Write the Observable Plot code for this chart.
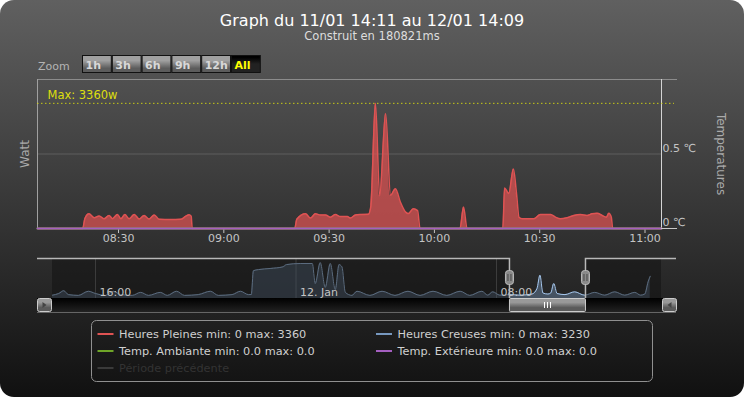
<!DOCTYPE html>
<html><head><meta charset="utf-8">
<script src="https://cdn.jsdelivr.net/npm/d3@7"></script>
<script src="https://cdn.jsdelivr.net/npm/@observablehq/plot@0.6"></script>
<style>
html,body{margin:0;padding:0;background:#fff;}
#chart{position:relative;width:744px;height:397px;overflow:hidden;border-radius:14px;
  background:linear-gradient(to bottom,#606060 0px,#101010 400px);font-family:"DejaVu Sans",sans-serif;}
#chart svg{position:absolute;left:0;overflow:visible;}
</style></head>
<body><div id="chart"></div>
<script>
// ---------------- data ----------------
const titleText = "Graph du 11/01 14:11 au 12/01 14:09";
const subtitleText = "Construit en 180821ms";
const zoomLabel = "Zoom";
const zoomButtons = ["1h", "3h", "6h", "9h", "12h", "All"];
const zoomSelected = "All";
const yTitle = "Watt";
const y2Title = "Temperatures";
const viewDay = "2012-01-12";
const viewRange = ["08:06:55", "11:04:42"];
const xTickLabels = ["08:30", "09:00", "09:30", "10:00", "10:30", "11:00"];
const wattGrid = [2000, 4000];
const wattTop = 4000;
const wattMax = 3360;
const maxLabel = "Max: 3360w";
const tempTicks = [0, 0.5];
const tempTickLabels = ["0 ℃", "0.5 ℃"];
const tempTop = 1;

// Heures Pleines (W) in the zoomed view, 12 Jan
const hpTimes = [
  "08:07:00",
  "08:19:48","08:20:24","08:21:36","08:23:06","08:24:30","08:25:54","08:27:18","08:28:18","08:29:42",
  "08:30:42","08:31:48","08:33:00","08:34:30","08:35:54","08:37:18","08:38:42","08:40:12","08:41:36",
  "08:44:54","08:47:42","08:49:12","08:50:06","08:50:42","08:51:00",
  "09:20:12","09:20:48","09:23:18","09:24:42","09:26:06","09:27:30","09:29:00","09:30:24","09:31:48",
  "09:33:12","09:35:12","09:36:06","09:37:30","09:38:54","09:41:12","09:41:54","09:43:12","09:44:24",
  "09:46:06","09:47:30","09:48:54","09:50:18","09:51:48","09:52:36","09:54:00","09:55:12","09:55:54",
  "10:07:18","10:08:18","10:09:18",
  "10:19:30","10:20:00","10:20:48","10:21:12","10:22:30","10:23:24","10:24:06","10:25:00","10:28:18",
  "10:30:12","10:33:06","10:34:30","10:35:54","10:37:48","10:39:42","10:41:36","10:43:30","10:44:54",
  "10:46:24","10:47:48","10:49:00","10:49:42","10:50:24","10:50:48",
  "11:04:30"
];
const hpWatts = [
  0,
  0, 260, 395, 290, 335, 260, 350, 265, 375,
  260, 375, 260, 375, 255, 350, 255, 365, 245,
  240, 245, 330, 370, 330, 0,
  0, 250, 395, 280, 395, 365, 365, 305, 375,
  320, 320, 280, 365, 375, 380, 600, 3360, 880,
  3090, 890, 1070, 710, 440, 400, 530, 480, 0,
  0, 580, 0,
  0, 1090, 980, 940, 1600, 930, 300, 260, 260,
  375, 375, 305, 260, 290, 350, 375, 350, 395,
  410, 350, 305, 410, 300, 0,
  0
];
const tempTimes = ["08:06:55", "11:04:42"];
const tempAmbiante = [0.0, 0.0];
const tempExterieure = [0.0, 0.0];

// Navigator: Heures Creuses (W) over the whole period
const navRange = ["2012-01-11T14:17", "2012-01-12T14:35"];
const navGrid = ["2012-01-11T16:00", "2012-01-12T00:00", "2012-01-12T08:00"];
const navGridLabels = ["16:00", "12. Jan", "08:00"];
const navSelection = ["2012-01-12T08:31", "2012-01-12T11:33"];
const hcTimes = [
  "2012-01-11T14:17","2012-01-11T14:32","2012-01-11T14:44","2012-01-11T14:55","2012-01-11T15:19",
  "2012-01-11T15:43","2012-01-11T16:00","2012-01-11T16:24","2012-01-11T16:43","2012-01-11T17:00",
  "2012-01-11T17:28","2012-01-11T17:48","2012-01-11T18:07","2012-01-11T18:35","2012-01-11T18:52",
  "2012-01-11T19:14","2012-01-11T19:33","2012-01-11T20:06","2012-01-11T20:35","2012-01-11T20:54",
  "2012-01-11T21:27","2012-01-11T21:47","2012-01-11T22:06","2012-01-11T22:13","2012-01-11T22:18",
  "2012-01-11T22:30","2012-01-11T22:58","2012-01-11T23:29","2012-01-11T23:37","2012-01-12T00:10",
  "2012-01-12T00:39","2012-01-12T00:46","2012-01-12T00:58","2012-01-12T01:10","2012-01-12T01:22",
  "2012-01-12T01:34","2012-01-12T01:43","2012-01-12T01:50","2012-01-12T01:58","2012-01-12T02:14",
  "2012-01-12T02:26","2012-01-12T02:57","2012-01-12T03:26","2012-01-12T03:57","2012-01-12T04:28",
  "2012-01-12T04:57","2012-01-12T05:28","2012-01-12T06:01","2012-01-12T06:33","2012-01-12T06:56",
  "2012-01-12T07:25","2012-01-12T07:39","2012-01-12T07:51","2012-01-12T08:08","2012-01-12T08:32",
  "2012-01-12T08:56","2012-01-12T09:25","2012-01-12T09:37","2012-01-12T09:44","2012-01-12T09:51",
  "2012-01-12T10:03","2012-01-12T10:10","2012-01-12T10:17","2012-01-12T10:25","2012-01-12T10:44",
  "2012-01-12T11:07","2012-01-12T11:31","2012-01-12T11:55","2012-01-12T12:19","2012-01-12T12:43",
  "2012-01-12T13:07","2012-01-12T13:31","2012-01-12T13:45","2012-01-12T13:55","2012-01-12T14:03",
  "2012-01-12T14:08"
];
const hcWatts = [
  300, 450, 700, 350, 280,
  650, 450, 280, 650, 350,
  280, 550, 280, 550, 280,
  650, 280, 350, 650, 280,
  350, 650, 350, 360, 2500,
  2600, 2700, 2850, 3050, 3150,
  3150, 1350, 3230, 1000, 3150,
  800, 3050, 2850, 550, 280,
  650, 280, 650, 280, 650,
  280, 650, 280, 650, 280,
  650, 300, 600, 300, 350,
  300, 400, 900, 2100, 500,
  400, 500, 1350, 450, 350,
  600, 300, 550, 300, 600,
  300, 550, 300, 400, 1500,
  2000
];

const legendNames = ["Heures Pleines", "Heures Creuses", "Temp. Ambiante", "Temp. Extérieure", "Période précédente"];
const legendMin = ["0", "0", "0.0", "0.0", null];
const legendMax = ["3360", "3230", "0.0", "0.0", null];
const legendColors = ["#DF5353", "#7798BF", "#6fa528", "#a45fc0", "#3a3a3a"];
const legendHidden = [false, false, false, false, true];

// ---------------- build ----------------
const U = s => new Date(s + "Z");
const T = t => U(viewDay + "T" + t);
const hp = hpTimes.map((t, i) => ({t: T(t), w: hpWatts[i]}));
const temps = tempTimes.map((t, i) => ({t: T(t), amb: tempAmbiante[i], ext: tempExterieure[i]}));
const hc = hcTimes.map((t, i) => ({t: U(t), w: hcWatts[i]}));
const wattPerDeg = wattTop / tempTop;
const xDom = viewRange.map(T);
const chart = document.getElementById("chart");
const baseStyle = {background: "transparent", fontFamily: "DejaVu Sans", fontSize: "11px", color: "#c4c4c4", overflow: "visible"};

const main = Plot.plot({
  width: 744, height: 250, marginLeft: 37, marginRight: 83, marginTop: 79, marginBottom: 22,
  style: baseStyle,
  x: {type: "utc", domain: xDom, ticks: xTickLabels.map(T), tickFormat: d3.utcFormat("%H:%M"), tickSize: 5, tickPadding: 1, label: null},
  y: {domain: [0, wattTop], axis: null},
  marks: [
    Plot.ruleY(wattGrid.slice(0, 1), {stroke: "#ffffff", strokeOpacity: 0.16}),
    Plot.ruleY(wattGrid.slice(1), {stroke: "#8c8c8c", insetRight: -16}),
    Plot.areaY(hp, {x: "t", y: "w", fill: "#DF5353", fillOpacity: 0.72, curve: "monotone-x"}),
    Plot.lineY(hp, {x: "t", y: "w", stroke: "#DF5353", strokeWidth: 1.5, curve: "monotone-x"}),
    Plot.ruleX([xDom[0]], {stroke: "#a0a0a0"}),
    Plot.ruleX([xDom[1]], {stroke: "#d4d4d4"}),
    Plot.ruleY([wattMax], {stroke: "#DDDF0D", strokeOpacity: 0.85, strokeDasharray: "1.5,2.5", insetRight: -13}),
    Plot.text([maxLabel], {x: () => xDom[0], y: () => wattMax, dx: 10, dy: -8, textAnchor: "start", fill: "#DDDF0D", fontSize: 11.5}),
    Plot.lineY(temps, {x: "t", y: d => d.amb * wattPerDeg, stroke: "#6fa528", strokeWidth: 2}),
    Plot.lineY(temps, {x: "t", y: d => d.ext * wattPerDeg, stroke: "#a45fc0", strokeWidth: 2}),
    Plot.ruleY([0], {x1: () => xDom[1], x2: () => xDom[1], insetRight: -16, stroke: "#c8c8c8"}),
    Plot.text(tempTicks, {x: () => xDom[1], y: d => d * wattPerDeg, text: (d, i) => tempTickLabels[i], textAnchor: "start", dx: 1, dy: -6, fill: "#c4c4c4"}),
    Plot.text([yTitle], {frameAnchor: "left", textAnchor: "middle", dx: -12, rotate: -90, fill: "#aaaaaa", fontSize: 12}),
    Plot.text([y2Title], {frameAnchor: "right", textAnchor: "middle", dx: 59, rotate: 90, fill: "#aaaaaa", fontSize: 12})
  ]
});
main.style.top = "0px";
chart.appendChild(main);

const nx = navRange.map(U);
const sel = navSelection.map(U);
const nav = Plot.plot({
  width: 744, height: 72, marginLeft: 52, marginRight: 83, marginTop: 13, marginBottom: 19,
  style: baseStyle,
  x: {type: "utc", domain: nx, axis: null},
  y: {domain: [0, 3600], axis: null},
  marks: [
    Plot.ruleX(navGrid.map(U), {stroke: "#ffffff", strokeOpacity: 0.3}),
    Plot.areaY(hc, {x: "t", y: "w", fill: "#7798BF", fillOpacity: 0.4, curve: "monotone-x"}),
    Plot.lineY(hc, {x: "t", y: "w", stroke: "#A6C7ED", strokeWidth: 1, curve: "monotone-x"}),
    Plot.rect([0], {x1: () => nx[0], x2: () => sel[0], fill: "#101010", fillOpacity: 0.5}),
    Plot.rect([0], {x1: () => sel[1], x2: () => nx[1], fill: "#101010", fillOpacity: 0.5}),
    Plot.text(navGrid.map(U), {x: d => d, frameAnchor: "bottom", lineAnchor: "bottom", dx: 4, dy: -3, textAnchor: "start", text: (d, i) => navGridLabels[i], fill: "#c4c4c4"})
  ]
});
nav.style.top = "245px";
chart.appendChild(nav);

// navigator decorations (outline, handles, scrollbar) from the navigator's x scale
{
  const sx = nav.scale("x");
  const L = 52, R = 744 - 83, top = 13, bot = 53;
  const X0 = sx.apply(sel[0]), X1 = sx.apply(sel[1]);
  const g = d3.select(nav).append("g");
  const defs = g.append("defs");
  const grad = (id, stops) => {
    const lg = defs.append("linearGradient").attr("id", id).attr("x1", 0).attr("y1", 0).attr("x2", 0).attr("y2", 1);
    stops.forEach(([o, c]) => lg.append("stop").attr("offset", o).attr("stop-color", c));
  };
  grad("btnGrad", [[0.3, "#999"], [0.7, "#5a5a5a"]]);
  grad("trackGrad", [[0, "#000"], [1, "#222"]]);
  g.append("rect").attr("x", L - 15).attr("y", bot).attr("width", R - L + 30).attr("height", 14).attr("fill", "url(#trackGrad)");
  g.append("line").attr("x1", L - 15).attr("x2", R + 15).attr("y1", bot + 14.5).attr("y2", bot + 14.5).attr("stroke", "#666");
  // buttons
  [[L - 15, -1], [R + 1, 1]].forEach(([bx, dir]) => {
    g.append("rect").attr("x", bx + 0.5).attr("y", bot + 0.5).attr("width", 14).attr("height", 13).attr("rx", 2)
      .attr("fill", "url(#btnGrad)").attr("stroke", "#ccc");
    const cx = bx + 7.5, cy = bot + 7;
    g.append("path").attr("d", `M${cx + 2 * dir},${cy - 3}L${cx - 2 * dir},${cy}L${cx + 2 * dir},${cy + 3}Z`).attr("fill", "#444");
  });
  // scrollbar thumb
  g.append("rect").attr("x", X0 + 0.5).attr("y", bot + 0.5).attr("width", X1 - X0).attr("height", 13).attr("rx", 1)
    .attr("fill", "url(#btnGrad)").attr("stroke", "#ccc");
  const cxm = Math.round((X0 + X1) / 2) + 0.5;
  [-3, 0, 3].forEach(o => g.append("line").attr("x1", cxm + o).attr("x2", cxm + o).attr("y1", bot + 4).attr("y2", bot + 10).attr("stroke", "#fff"));
  // outline
  g.append("path").attr("d", `M${L - 15},${top + 0.5}H${X0 + 0.5}V${bot}M${X1 + 0.5},${bot}V${top + 0.5}H${R + 15}`)
    .attr("fill", "none").attr("stroke", "#b8b8b8").attr("stroke-width", 1.5);
  // handles
  [X0, X1].forEach(hx => {
    g.append("rect").attr("x", hx - 3.5).attr("y", 25.5).attr("width", 8).attr("height", 14).attr("rx", 3)
      .attr("fill", "#8a8a8a").attr("stroke", "#bbb");
    [-1, 2].forEach(o => g.append("line").attr("x1", hx + o).attr("x2", hx + o).attr("y1", 29).attr("y2", 36).attr("stroke", "#444"));
  });
}

// overlay: title, subtitle, zoom buttons, legend
{
  const svg = d3.create("svg").attr("width", 744).attr("height", 397).style("top", "0px")
    .attr("font-family", "DejaVu Sans");
  const defs = svg.append("defs");
  const grad = (id, stops) => {
    const lg = defs.append("linearGradient").attr("id", id).attr("x1", 0).attr("y1", 0).attr("x2", 0).attr("y2", 1);
    stops.forEach(([o, c]) => lg.append("stop").attr("offset", o).attr("stop-color", c));
  };
  grad("zbtn", [[0.3, "#a0a0a0"], [0.75, "#5c5c5c"]]);
  grad("zsel", [[0.1, "#000"], [0.5, "#222"]]);
  svg.append("text").attr("x", 372).attr("y", 26).attr("text-anchor", "middle").attr("fill", "#fff").attr("font-size", 16).text(titleText);
  svg.append("text").attr("x", 372).attr("y", 40).attr("text-anchor", "middle").attr("fill", "#ddd").attr("font-size", 11.5).text(subtitleText);
  svg.append("text").attr("x", 38).attr("y", 70).attr("fill", "#b4b4b4").attr("font-size", 11).text(zoomLabel);
  const bw = 29.8, bx0 = 82;
  zoomButtons.forEach((b, i) => {
    const x = bx0 + i * bw, isSel = b === zoomSelected;
    svg.append("rect").attr("x", x + 0.5).attr("y", 55.5).attr("width", bw - 1).attr("height", 17)
      .attr("fill", isSel ? "url(#zsel)" : "url(#zbtn)").attr("stroke", "#111");
    svg.append("text").attr("x", x + 3.5).attr("y", 68.5).attr("fill", isSel ? "#ffff00" : "#d8d8d8")
      .attr("font-size", 11).attr("font-weight", "bold").text(b);
  });
  // legend
  svg.append("rect").attr("x", 91.5).attr("y", 320.5).attr("width", 561).attr("height", 61).attr("rx", 5)
    .attr("fill", "none").attr("stroke", "#909090");
  const cols = [97.5, 376], rows = [334, 351, 368];
  legendNames.forEach((n, i) => {
    const x = cols[i % 2], y = rows[Math.floor(i / 2)];
    svg.append("line").attr("x1", x).attr("x2", x + 16).attr("y1", y).attr("y2", y)
      .attr("stroke", legendColors[i]).attr("stroke-width", 2);
    const label = legendMin[i] == null ? n : `${n} min: ${legendMin[i]} max: ${legendMax[i]}`;
    svg.append("text").attr("x", x + 21.5).attr("y", y + 4).attr("font-size", 11.3)
      .attr("fill", legendHidden[i] ? "#333" : "#d0d0d0").text(label);
  });
  chart.appendChild(svg.node());
}
</script>
</body></html>
